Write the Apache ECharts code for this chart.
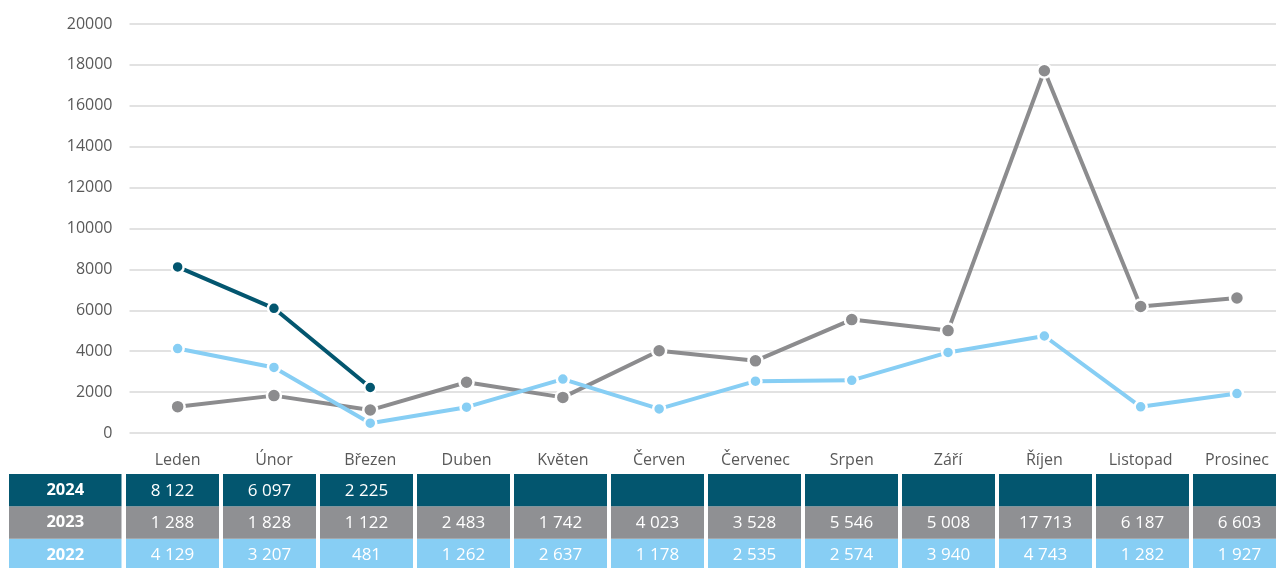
<!DOCTYPE html>
<html>
<head>
<meta charset="utf-8">
<script src="https://cdn.jsdelivr.net/npm/echarts@6/dist/echarts.min.js"></script>
<style>
html,body{margin:0;padding:0;background:#fff;overflow:hidden;width:1276px;height:568px;}
#main{width:1300px;height:580px;}
</style>
</head>
<body>
<div id="main"></div>
<script>
const months = ['Leden','Únor','Březen','Duben','Květen','Červen','Červenec','Srpen','Září','Říjen','Listopad','Prosinec'];
const years = ['2022','2023','2024'];
const values2024 = [8122, 6097, 2225, null, null, null, null, null, null, null, null, null];
const values2023 = [1288, 1828, 1122, 2483, 1742, 4023, 3528, 5546, 5008, 17713, 6187, 6603];
const values2022 = [4129, 3207, 481, 1262, 2637, 1178, 2535, 2574, 3940, 4743, 1282, 1927];
const yTicks = [0, 2000, 4000, 6000, 8000, 10000, 12000, 14000, 16000, 18000, 20000];

const colors = {'2024': '#03566F', '2023': '#8F9093', '2022': '#87CEF4'};
const lineColors = {'2024': '#03566F', '2023': '#8C8C8E', '2022': '#87CEF4'};
const FONT = '"Open Sans", "Noto Sans", sans-serif';

const seriesByYear = {'2022': values2022, '2023': values2023, '2024': values2024};
const tableData = [];
years.forEach((y, yi) => {
  seriesByYear[y].forEach((v, mi) => tableData.push([mi, yi, v]));
});
function fmt(v){
  if (v === null || v === undefined) return '';
  return String(v).replace(/\B(?=(\d{3})+(?!\d))/g, ' ');
}

const chart = echarts.init(document.getElementById('main'), null, {renderer: 'canvas'});

function lineSeries(year, size, z){
  return {
    type: 'line',
    name: year,
    data: seriesByYear[year],
    xAxisIndex: 0, yAxisIndex: 0,
    z: z,
    symbol: 'circle',
    symbolSize: size,
    showSymbol: true,
    connectNulls: false,
    lineStyle: {color: lineColors[year], width: 4},
    itemStyle: {color: lineColors[year], borderColor: '#fff', borderWidth: 2.5},
    emphasis: {disabled: true},
    animation: false
  };
}

const headerRich = {};
years.forEach(y => {
  headerRich['y' + y] = {backgroundColor: colors[y], color: '#fff', fontWeight: 'bold', fontSize: 16.5,
    fontFamily: FONT, width: 112.5, height: 32.4, lineHeight: 32.4, align: 'center'};
});

const option = {
  backgroundColor: '#fff',
  animation: false,
  grid: [
    {left: 129.5, width: 1155.6, top: 24, height: 409},
    {left: 124, width: 1164, top: 474, height: 97}
  ],
  xAxis: [
    {
      type: 'category', gridIndex: 0, data: months, boundaryGap: true,
      axisLine: {show: false}, axisTick: {show: false},
      axisLabel: {color: '#595959', fontSize: 16, fontFamily: FONT, margin: 19, interval: 0}
    },
    {
      type: 'category', gridIndex: 1, data: months, boundaryGap: true,
      axisLine: {show: false}, axisTick: {show: false}, axisLabel: {show: false}
    }
  ],
  yAxis: [
    {
      type: 'value', gridIndex: 0, min: yTicks[0], max: yTicks[yTicks.length - 1], interval: yTicks[1] - yTicks[0],
      axisLine: {show: false}, axisTick: {show: false},
      axisLabel: {color: '#595959', fontSize: 16, fontFamily: FONT, margin: 17, formatter: v => String(v)},
      splitLine: {lineStyle: {color: '#D9D9D9', width: 1.5}}
    },
    {
      type: 'category', gridIndex: 1, data: years,
      axisLine: {show: false}, axisTick: {show: false}, splitLine: {show: false},
      axisLabel: {
        margin: 2.5, interval: 0, hideOverlap: false,
        formatter: v => '{y' + v + '|' + v + '}',
        rich: headerRich
      }
    }
  ],
  series: [
    lineSeries('2022', 12, 3),
    lineSeries('2023', 14, 2),
    lineSeries('2024', 12, 4),
    {
      type: 'custom',
      xAxisIndex: 1, yAxisIndex: 1,
      data: tableData,
      animation: false,
      renderItem: function(params, api){
        const mi = api.value(0), yi = api.value(1);
        const v = tableData[params.dataIndex][2];
        const p = api.coord([mi, yi]);
        const s = api.size([1, 1]);
        const gap = 4;
        const w = s[0] - gap, h = s[1];
        return {
          type: 'group',
          children: [
            {type: 'rect', shape: {x: p[0] - w / 2, y: p[1] - h / 2, width: w, height: h},
             style: {fill: colors[years[yi]]}},
            {type: 'text', x: p[0], y: p[1] + 0.5,
             style: {text: fmt(v), fill: '#fff', fontSize: 17, fontFamily: FONT,
                     align: 'center', verticalAlign: 'middle'}}
          ]
        };
      }
    }
  ]
};
chart.setOption(option);
</script>
</body>
</html>
